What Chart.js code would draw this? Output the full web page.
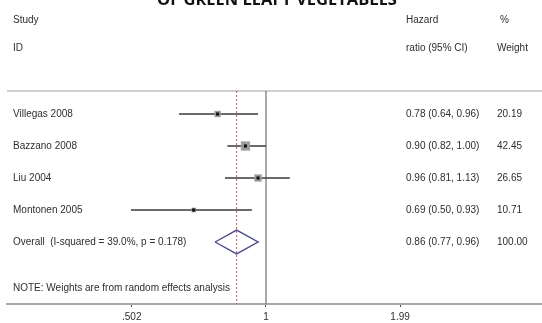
<!DOCTYPE html>
<html>
<head>
<meta charset="utf-8">
<script src="https://cdn.jsdelivr.net/npm/chart.js@4.4.1/dist/chart.umd.min.js"></script>
<style>
html,body{margin:0;padding:0;background:#fff;}
#wrap{width:542px;height:323px;position:relative;}
</style>
</head>
<body>
<div id="wrap"><canvas id="c" width="542" height="323"></canvas></div>
<script>
// ---- data ----
const studies = ['Villegas 2008', 'Bazzano 2008', 'Liu 2004', 'Montonen 2005'];
const hr      = [0.78, 0.90, 0.96, 0.69];
const lower   = [0.64, 0.82, 0.81, 0.50];
const upper   = [0.96, 1.00, 1.13, 0.93];
const weights = [20.19, 42.45, 26.65, 10.71];
const overallLabel = 'Overall  (I-squared = 39.0%, p = 0.178)';
const overallHR = [0.86];
const overallLower = [0.77];
const overallUpper = [0.96];
const overallWeight = [100.00];
const tickValues = [0.502, 1, 1.99];
const tickLabels = ['.502', '1', '1.99'];
const noteText = 'NOTE: Weights are from random effects analysis';
const titleText = 'OF GREEN LEAFY VEGETABLES';

// ---- layout constants ----
const X_MIN = 0.2646, X_MAX = 4.124;
const Y_MIN = -3.5625, Y_MAX = 5.9375;
const ROW_TOPLINE = -0.72;
const ROW_STUDY = -2.94, ROW_ID = -2.06, ROW_NOTE = 5.45;
const OVERALL_ROW = studies.length;
const DIAMOND_HALF = 0.37;
const TEXT_COLOR = '#2e2e2e';
const FONT = '10px "Liberation Sans", Arial, sans-serif';

// keep the plot area exactly where the layout puts it (no automatic point-overflow padding)
['scatter','line'].forEach(t => { Chart.registry.getController(t).prototype.getMaxOverflow = function(){ return 0; }; });

const fmt = v => v.toFixed(2);

const datasets = [];
// reference top line
datasets.push({type:'line', data:[{x:X_MIN,y:ROW_TOPLINE},{x:X_MAX,y:ROW_TOPLINE}], borderColor:'#cfcfcf', borderWidth:2, pointRadius:0, order:10});
// null line at 1
datasets.push({type:'line', data:[{x:1,y:ROW_TOPLINE},{x:1,y:Y_MAX}], borderColor:'#7a7a7a', borderWidth:1.3, pointRadius:0, order:9});
// overall estimate dashed line
datasets.push({type:'line', data:[{x:overallHR[0],y:ROW_TOPLINE},{x:overallHR[0],y:Y_MAX}], borderColor:'#c4536e', borderWidth:1, borderDash:[2,2], pointRadius:0, order:8});
// CI lines
studies.forEach((s,i)=>{
  datasets.push({type:'line', data:[{x:lower[i],y:i},{x:upper[i],y:i}], borderColor:'#3a3a3a', borderWidth:1.3, pointRadius:0, order:7});
});
// weight boxes
datasets.push({type:'scatter', data: hr.map((v,i)=>({x:v,y:i})), pointStyle:'rect',
  pointRadius: weights.map(w=>Math.sqrt(w)*1.0), backgroundColor:'#9d9d9d', borderWidth:0, order:5});
// center dots
datasets.push({type:'scatter', data: hr.map((v,i)=>({x:v,y:i})), pointStyle:'rect',
  pointRadius:2.2, backgroundColor:'#111', borderWidth:0, order:4});
// overall diamond
datasets.push({type:'line', data:[
  {x:overallLower[0], y:OVERALL_ROW},
  {x:overallHR[0], y:OVERALL_ROW-DIAMOND_HALF},
  {x:overallUpper[0], y:OVERALL_ROW},
  {x:overallHR[0], y:OVERALL_ROW+DIAMOND_HALF},
  {x:overallLower[0], y:OVERALL_ROW}], borderColor:'#4a4a8c', borderWidth:1.4, pointRadius:0, tension:0, order:3});

const textPlugin = {
  id:'forestText',
  afterDraw(chart){
    const ctx = chart.ctx;
    const ys = chart.scales.y;
    ctx.save();
    // title (cropped at top)
    ctx.fillStyle = '#111';
    ctx.font = 'bold 16.5px "Open Sans", sans-serif';
    ctx.textAlign = 'center';
    ctx.textBaseline = 'alphabetic';
    ctx.fillText(titleText, 277, 5);

    ctx.font = FONT;
    ctx.fillStyle = TEXT_COLOR;
    ctx.textAlign = 'left';
    ctx.textBaseline = 'middle';
    const xLab = 13, xHR = 406, xW = 497;
    ctx.fillText('Study', xLab, ys.getPixelForValue(ROW_STUDY));
    ctx.fillText('ID', xLab, ys.getPixelForValue(ROW_ID));
    ctx.fillText('Hazard', xHR, ys.getPixelForValue(ROW_STUDY));
    ctx.fillText('ratio (95% CI)', xHR, ys.getPixelForValue(ROW_ID));
    ctx.fillText('%', xW + 3, ys.getPixelForValue(ROW_STUDY));
    ctx.fillText('Weight', xW, ys.getPixelForValue(ROW_ID));
    studies.forEach((s,i)=>{
      const y = ys.getPixelForValue(i);
      ctx.fillText(s, xLab, y);
      ctx.fillText(fmt(hr[i]) + ' (' + fmt(lower[i]) + ', ' + fmt(upper[i]) + ')', xHR, y);
      ctx.fillText(fmt(weights[i]), xW, y);
    });
    const yo = ys.getPixelForValue(OVERALL_ROW);
    ctx.fillText(overallLabel, xLab, yo);
    ctx.fillText(fmt(overallHR[0]) + ' (' + fmt(overallLower[0]) + ', ' + fmt(overallUpper[0]) + ')', xHR, yo);
    ctx.fillText(fmt(overallWeight[0]), xW, yo);
    ctx.fillText(noteText, xLab, ys.getPixelForValue(ROW_NOTE));
    ctx.restore();
  }
};

new Chart(document.getElementById('c'), {
  type:'scatter',
  data:{datasets},
  options:{
    responsive:false,
    animation:false,
    devicePixelRatio:1,
    layout:{padding:{left:7,right:0,top:0,bottom:0}},
    plugins:{legend:{display:false}, tooltip:{enabled:false}},
    scales:{
      x:{
        type:'logarithmic', min:X_MIN, max:X_MAX,
        afterBuildTicks(scale){ scale.ticks = tickValues.map(v=>({value:v})); },
        afterFit(scale){ scale.height = 19; scale.paddingLeft = 0; scale.paddingRight = 0; },
        ticks:{
          autoSkip:false, maxRotation:0, padding:4, color:TEXT_COLOR,
          font:{family:'"Liberation Sans", Arial, sans-serif', size:10},
          callback:(v,i)=>tickLabels[i]
        },
        grid:{display:true, drawOnChartArea:false, drawTicks:true, tickLength:3, color:'#555', lineWidth:1},
        border:{display:true, color:'#a8a8a8', width:2}
      },
      y:{type:'linear', display:false, reverse:true, min:Y_MIN, max:Y_MAX}
    }
  },
  plugins:[textPlugin]
});
</script>
</body>
</html>
